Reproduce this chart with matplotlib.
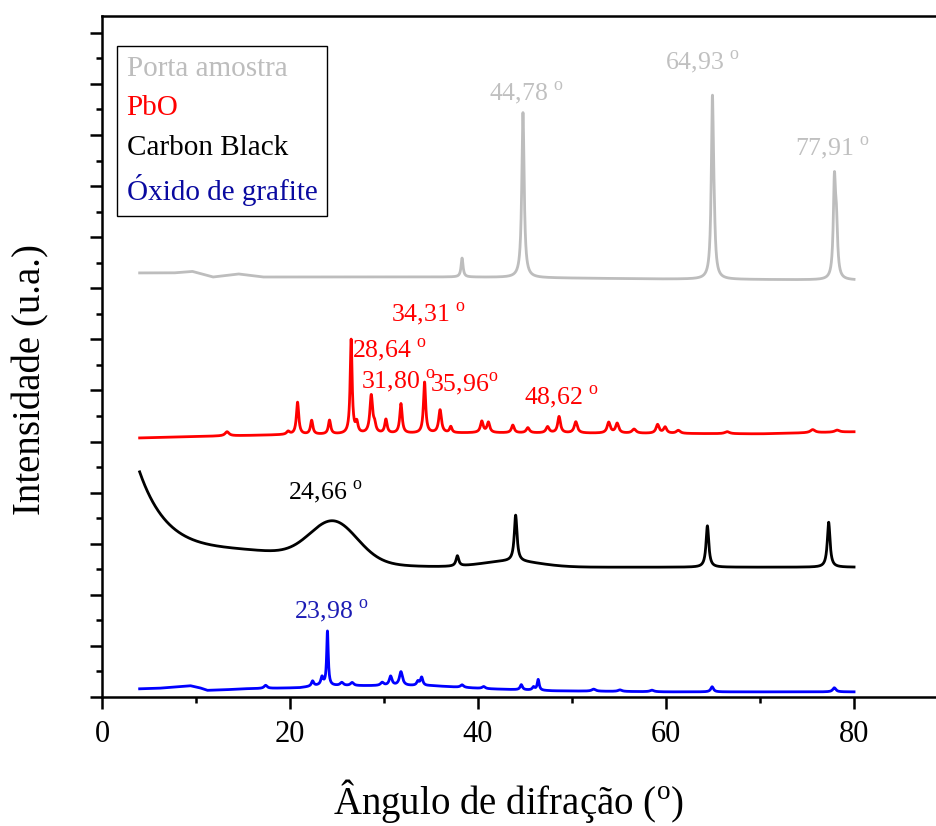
import numpy as np
import matplotlib
matplotlib.use("Agg")
import matplotlib.pyplot as plt
from matplotlib.ticker import MultipleLocator

plt.rcParams['font.family'] = ['Liberation Serif', 'DejaVu Serif']
plt.rcParams['mathtext.fontset'] = 'custom'
plt.rcParams['mathtext.rm'] = 'Liberation Serif'

# 2-theta grid of the scans (degrees)
two_theta = np.arange(4.0, 80.0 + 1e-9, 0.02)

# --- Porta amostra (sample holder) ---
porta_bg_x = [4.0, 7.6, 9.6, 11.8, 14.5, 17.1, 38.0, 60.0, 80.0]
porta_bg_y = [830, 830, 833, 822, 828, 822, 822, 818, 816]
porta_pk_pos = [38.30, 44.78, 64.93, 65.10, 77.91, 78.12]
porta_pk_h = [37, 323, 334, 60, 179, 95]
porta_pk_w = [0.25, 0.30, 0.28, 0.30, 0.28, 0.30]

# --- PbO ---
pbo_bg_x = [4.0, 13.0, 19.0, 40.0, 70.0, 80.0]
pbo_bg_y = [507, 511, 513, 517, 515, 519]
pbo_pk_pos = [13.3, 19.8, 20.8, 22.3, 24.2, 26.5, 27.1, 28.64, 29.0, 30.2,
              31.80, 34.31, 35.96, 37.1, 40.4, 41.1, 43.7, 45.3, 47.4, 48.62,
              50.4, 53.9, 54.8, 56.6, 59.1, 59.9, 61.3, 66.5, 75.6, 78.2]
pbo_pk_h = [8, 6, 63, 27, 27, 184, 20, 74, 14, 27,
            58, 100, 45, 12, 22, 20, 15, 10, 12, 32,
            22, 21, 19, 8, 17, 12, 6, 4, 6, 4]
pbo_pk_w = [0.5, 0.4, 0.3, 0.3, 0.3, 0.25, 0.3, 0.35, 0.3, 0.3,
            0.3, 0.28, 0.35, 0.3, 0.35, 0.35, 0.35, 0.4, 0.4, 0.35,
            0.4, 0.4, 0.4, 0.5, 0.4, 0.4, 0.5, 0.6, 0.6, 0.6]

# --- Carbon Black: flat level, low-angle decay and broad amorphous bands ---
cb_level = 254
cb_decay_amp, cb_decay_len = 175, 3.2
cb_band_pos = [15.0, 24.66, 43.5]
cb_band_h = [30, 76, 12]
cb_band_sigma = [8.0, 2.5, 3.0]
cb_pk_pos = [37.8, 44.0, 64.4, 77.3]
cb_pk_h = [20, 90, 81, 88]
cb_pk_w = [0.35, 0.35, 0.35, 0.35]

# --- Óxido de grafite ---
go_bg_x = [4.0, 6.0, 8.0, 9.4, 10.4, 11.2, 13.0, 15.0, 21.0, 23.0, 35.0, 37.0, 41.0, 48.0, 60.0, 80.0]
go_bg_y = [16, 17, 20, 22, 18, 13, 14, 16, 18, 22, 22, 20, 16, 12, 10, 10]
go_pk_pos = [17.4, 22.4, 23.4, 23.98, 25.5, 26.6, 29.8, 30.7, 31.8, 33.6,
             34.0, 38.3, 40.6, 44.6, 45.9, 46.4, 52.3, 55.1, 58.5, 64.9, 77.9]
go_pk_h = [6, 10, 16, 106, 6, 6, 6, 18, 27, 8,
           16, 5, 4, 10, 6, 21, 4, 3, 3, 10, 8]
go_pk_w = [0.4, 0.3, 0.3, 0.2, 0.4, 0.4, 0.4, 0.35, 0.4, 0.3,
           0.3, 0.4, 0.4, 0.3, 0.3, 0.25, 0.5, 0.5, 0.5, 0.35, 0.4]


def peaks(x, pos, h, w):
    y = np.zeros_like(x)
    for c, a, fw in zip(pos, h, w):
        y += a / (1.0 + ((x - c) / (fw / 2.0)) ** 2)
    return y


porta = np.interp(two_theta, porta_bg_x, porta_bg_y) + peaks(two_theta, porta_pk_pos, porta_pk_h, porta_pk_w)
pbo = np.interp(two_theta, pbo_bg_x, pbo_bg_y) + peaks(two_theta, pbo_pk_pos, pbo_pk_h, pbo_pk_w)

carbon = cb_level + cb_decay_amp * np.exp(-(two_theta - 4.0) / cb_decay_len)
for c, a, s in zip(cb_band_pos, cb_band_h, cb_band_sigma):
    carbon += a * np.exp(-(two_theta - c) ** 2 / (2 * s ** 2))
carbon += peaks(two_theta, cb_pk_pos, cb_pk_h, cb_pk_w)

grafite = np.interp(two_theta, go_bg_x, go_bg_y) + peaks(two_theta, go_pk_pos, go_pk_h, go_pk_w)

gray = '#bdbdbd'
red = '#ff0000'
blue = '#0000ff'

fig = plt.figure(figsize=(9.37, 8.26), dpi=100)
ax = fig.add_axes([0.1089, 0.1562, 0.9029, 0.8245])

l1, = ax.plot(two_theta, porta, color=gray, lw=2.0, label='Porta amostra')
l2, = ax.plot(two_theta, pbo, color=red, lw=2.0, label='PbO')
l3, = ax.plot(two_theta, carbon, color='black', lw=2.0, label='Carbon Black')
l4, = ax.plot(two_theta, grafite, color=blue, lw=2.0, label='Óxido de grafite')

ax.set_xlim(0, 90)
ax.set_ylim(0, 1333)
ax.xaxis.set_major_locator(MultipleLocator(20))
ax.xaxis.set_minor_locator(MultipleLocator(10))
ax.yaxis.set_major_locator(MultipleLocator(100))
ax.yaxis.set_minor_locator(MultipleLocator(50))
ax.tick_params(which='both', direction='out', width=1.8, top=False, right=False)
ax.tick_params(which='major', length=8.5)
ax.tick_params(which='minor', length=4.5)
ax.tick_params(axis='x', labelsize=22, pad=8)
ax.tick_params(axis='y', labelleft=False)
for sp in ax.spines.values():
    sp.set_linewidth(1.8)

ax.set_xlabel('Ângulo de difração ($^{\\mathrm{o}}$)', fontsize=28)
ax.set_ylabel('Intensidade (u.a.)', fontsize=28)
ax.xaxis.set_label_coords(0.481, -0.117)
ax.yaxis.set_label_coords(-0.062, 0.4655)

deg = ' $^{\\mathrm{o}}$'
notes = [
    ('44,78' + deg, 45.2, 1182, '#c0c0c0'),
    ('64,93' + deg, 63.9, 1243, '#c0c0c0'),
    ('77,91' + deg, 77.7, 1074, '#c0c0c0'),
    ('34,31' + deg, 34.7, 748, red),
    ('28,64' + deg, 30.6, 679, red),
    ('31,80' + deg, 31.5, 618, red),
    ('35,96$^{\\mathrm{o}}$', 38.5, 611, red),
    ('48,62' + deg, 48.9, 587, red),
    ('24,66' + deg, 23.8, 401, 'black'),
    ('23,98' + deg, 24.4, 168, '#1c1cb4'),
]
for txt, x, y, c in notes:
    ax.text(x, y, txt, color=c, fontsize=18.5, ha='center', va='center')

leg = ax.legend(handles=[l1, l2, l3, l4], loc='upper left', bbox_to_anchor=(0.0177, 0.956),
                borderaxespad=0, handlelength=0, handletextpad=0, fontsize=21,
                fancybox=False, edgecolor='black', framealpha=1,
                labelspacing=0.45, borderpad=0.33)
leg.get_frame().set_linewidth(1.0)
for t, c in zip(leg.get_texts(), [gray, red, 'black', '#0a0aa0']):
    t.set_color(c)

fig.savefig('out.png', dpi=100)
